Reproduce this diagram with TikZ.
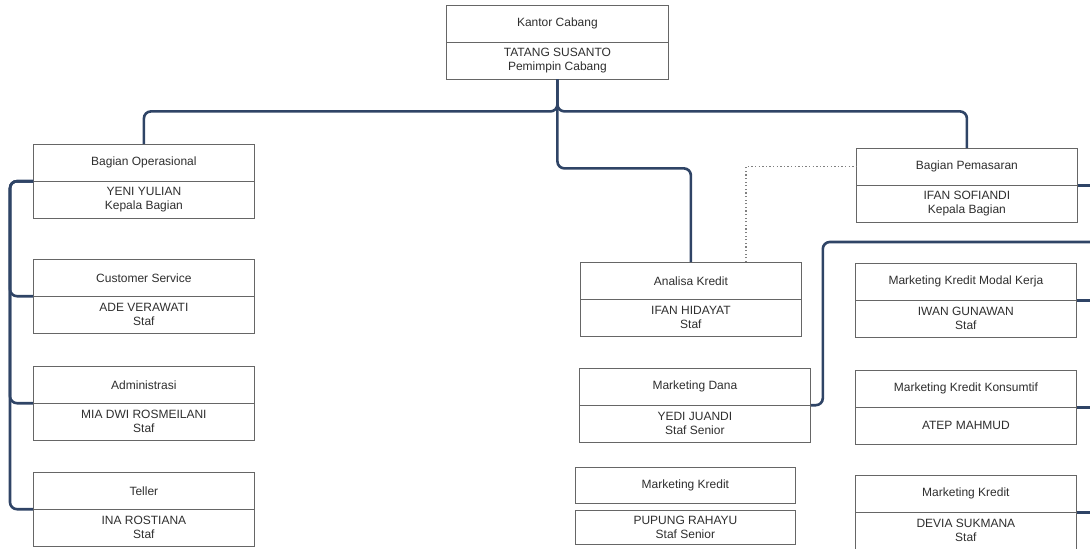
\documentclass[tikz,border=0pt]{standalone}
\usepackage{fontspec}
\setmainfont{Liberation Sans}
\usetikzlibrary{shapes.multipart}
\usetikzlibrary{calc}
\definecolor{linkblue}{HTML}{2F4466}
\definecolor{boxgray}{HTML}{666666}
\definecolor{txtgray}{HTML}{2E2E2E}
\newcommand{\cell}[2][221]{\parbox[c][36pt][c]{#1pt}{\centering #2}}
\begin{document}
\begin{tikzpicture}[x=1pt,y=-1pt,
  stack/.style={rectangle split, rectangle split parts=2, draw=boxgray, line width=0.8pt, inner sep=0pt, anchor=north west},
  single/.style={rectangle, draw=boxgray, line width=0.8pt, inner sep=0pt, anchor=north west},
  link/.style={draw=linkblue, line width=2.6pt, rounded corners=7pt},
  dotlink/.style={draw=gray, line width=1.3pt, dash pattern=on 1.3pt off 2.3pt},
  every node/.style={font=\fontsize{12}{14.5}\selectfont, text=txtgray}]

      \useasboundingbox (0,0) rectangle (1090,549);

      \node[stack] (cabang) at (446,5) { \cell[222]{Kantor Cabang}\nodepart{two}\cell[222]{TATANG SUSANTO\\Pemimpin Cabang} };

      \node[stack] (ops) at (33,144) { \cell{Bagian Operasional}\nodepart{two}\cell{YENI YULIAN\\Kepala Bagian} };
      \node[stack] (cs) at (33,259) { \cell{Customer Service}\nodepart{two}\cell{ADE VERAWATI\\Staf} };
      \node[stack] (adm) at (33,366) { \cell{Administrasi}\nodepart{two}\cell{MIA DWI ROSMEILANI\\Staf} };
      \node[stack] (tel) at (33,472) { \cell{Teller}\nodepart{two}\cell{INA ROSTIANA\\Staf} };

      \node[stack] (analisa) at (580,262) { \cell{Analisa Kredit}\nodepart{two}\cell{IFAN HIDAYAT\\Staf} };
      \node[stack] (dana) at (579,368) { \cell[231]{Marketing Dana}\nodepart{two}\cell[231]{YEDI JUANDI\\Staf Senior} };
      \node[single] (mkt) at (575,467) { \cell[220]{Marketing Kredit} };
      \node[single] (mktname) at (575,510) { \parbox[c][34pt][c]{220pt}{\centering PUPUNG RAHAYU\\Staf Senior} };

      \node[stack] (pemasaran) at (856,148) { \cell{Bagian Pemasaran}\nodepart{two}\cell{IFAN SOFIANDI\\Kepala Bagian} };
      \node[stack] (modal) at (855,263) { \cell{Marketing Kredit Modal Kerja}\nodepart{two}\cell{IWAN GUNAWAN\\Staf} };
      \node[stack] (konsumtif) at (855,370) { \cell{Marketing Kredit Konsumtif}\nodepart{two}\cell{ATEP MAHMUD} };
      \node[stack] (kredit) at (855,475) { \cell{Marketing Kredit}\nodepart{two}\cell{DEVIA SUKMANA\\Staf} };

      \coordinate (rightedge) at (1092,0);
      \coordinate (danabus) at (1092,242);

      % from the branch office down
      \draw[link] (cabang.south) -- ++(0,32) -| (ops.north);
      \draw[link] (cabang.south) -- ++(0,32) -| (pemasaran.north);
      \draw[link] (cabang.south) -- ++(0,89) -| (analisa.north);

      % operasional staff
      \foreach \n in {cs,adm,tel}
        \draw[link] (ops.one split west) -- ++(-23,0) |- (\n.one split west);

      % pemasaran side
      \foreach \n in {pemasaran,modal,konsumtif,kredit}
        \draw[link] (\n.one split east) -- (\n.one split east -| rightedge);
      \draw[link] (dana.one split east) -- ++(12,0) |- (danabus);

      \draw[dotlink] ([xshift=166pt]analisa.north west) |- ($(pemasaran.north west)!.5!(pemasaran.one split west)$);

    \end{tikzpicture}
\end{document}
